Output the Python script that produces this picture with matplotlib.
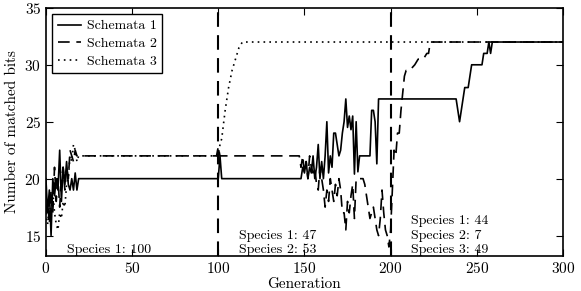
import matplotlib
matplotlib.use('Agg')
import matplotlib.pyplot as plt

plt.rcParams['font.family'] = ['cmr10', 'DejaVu Serif']
plt.rcParams['mathtext.fontset'] = 'cm'
plt.rcParams['axes.formatter.use_mathtext'] = True

####################
# Data

gen1 = [0, 1, 2, 3, 4, 5, 6, 7, 8, 9, 10, 11, 12, 13, 14, 15, 16, 17, 18, 19, 20,
        100, 101, 102,
        148, 149, 150, 151, 152, 153, 154, 155, 156, 157, 158, 159, 160, 161, 162,
        163, 164, 165, 166, 167, 168, 169, 170, 171, 172, 173, 174, 175, 176, 177,
        178, 179, 180, 181, 182, 188, 189, 190, 191, 192, 193,
        238, 240, 242, 243, 245, 247, 253, 254, 256, 257, 258, 259, 300]
sch1 = [20, 17, 19, 15, 20, 18.5, 20, 19, 22.5, 18, 21, 19.5, 21.5, 19.5, 19, 20, 19, 20.5, 19, 20, 20,
        20, 22, 20,
        20, 21, 20.5, 21.5, 20, 21, 20.5, 22, 20, 21, 23, 20, 21.5, 20, 22,
        25, 20.5, 22, 21, 24, 24, 23, 22, 22.5, 24, 25, 27, 24.5, 25.5, 24.3,
        25.5, 20.4, 25, 20.6, 22, 22, 26, 26, 25, 21.3, 27,
        27, 25, 27, 28, 28, 30, 30, 31, 31, 32, 31, 32, 32]

gen2 = [0, 1, 2, 3, 4, 5, 6, 7, 8, 9, 10, 11, 12, 13, 14, 15, 16, 17, 18, 20,
        99, 100, 101,
        147, 148, 149, 150, 151, 152, 153, 154, 155, 156, 157, 158, 159, 160, 161,
        162, 163, 164, 165, 166, 167, 168, 169, 170, 171, 172, 173, 174, 175, 176,
        177, 178, 179, 180, 184, 185, 186, 187, 188, 189, 190, 191, 192, 193, 194,
        195, 196, 197, 198, 199, 200, 201, 202, 203, 204, 205, 206, 207, 208, 209,
        211, 214, 216, 219, 221, 222, 223, 300]
sch2 = [17, 18, 16, 19, 17, 21, 18, 20, 17.5, 20, 21, 19, 21, 20, 22.5, 22, 21.5, 22.5, 22, 22,
        22, 22.8, 22,
        22, 21, 22, 20.5, 21.5, 20, 22, 21, 20.5, 21, 19.5, 19, 21, 20, 19,
        17.5, 19, 18, 20, 19, 18, 19.5, 18.5, 20, 19, 17, 17, 15.5, 18, 17,
        18.5, 19.5, 16.5, 20, 20, 19.5, 18.5, 17.5, 16.5, 17, 17.5, 16.5, 15.5, 15, 16.5,
        19, 17, 15.5, 15, 14, 15.5, 19, 22.5, 22, 24, 24, 26, 27.5, 29, 29.5,
        29.5, 30, 30.5, 30.5, 31, 31, 32, 32]

gen3 = [0, 1, 2, 3, 4, 5, 6, 7, 8, 9, 10, 11, 12, 13, 14, 15, 16, 17, 18, 19, 20,
        100, 101, 102, 104, 106, 108, 110, 112, 114, 300]
sch3 = [17, 16, 18, 16.5, 19, 17, 16, 15.5, 17, 16.5, 18, 17.5, 19.5, 20, 22, 21.5, 23, 22.5, 21.5, 22, 22,
        22, 23, 23.5, 26, 28, 29.5, 30.5, 31.5, 32, 32]

switch_gens = [100, 200]
species_x = [12, 112, 212]
species_text = [['Species 1: 100'],
                ['Species 1: 47', 'Species 2: 53'],
                ['Species 1: 44', 'Species 2: 7', 'Species 3: 49']]

####################
# Plotting

fig = plt.figure(figsize=(5.81, 2.91), dpi=100)
ax = fig.add_axes([0.079, 0.120, 0.890, 0.853])

ax.plot(gen1, sch1, 'k-', lw=1.2, label='Schemata 1')
ax.plot(gen2, sch2, 'k--', lw=1.2, dashes=(7, 4), label='Schemata 2')
ax.plot(gen3, sch3, 'k:', lw=1.2, dashes=(1, 2.5), label='Schemata 3')

for g in switch_gens:
    ax.axvline(g, color='k', ls='--', lw=1.5, dashes=(7, 4))

for x, lines in zip(species_x, species_text):
    for i, t in enumerate(reversed(lines)):
        ax.text(x, 13.5 + 1.24 * i, t, fontsize=10, va='baseline', ha='left')

ax.set_xlim(0, 300)
ax.set_ylim(13.2, 35)
ax.set_xticks([0, 50, 100, 150, 200, 250, 300])
ax.set_yticks([15, 20, 25, 30, 35])
ax.tick_params(direction='in', top=True, right=True, labelsize=11, length=5, width=0.8)
for s in ax.spines.values():
    s.set_linewidth(1.2)
ax.set_xlabel('Generation', fontsize=11, labelpad=1)
ax.set_ylabel('Number of matched bits', fontsize=11, labelpad=4)

leg = ax.legend(loc='upper left', fontsize=10, fancybox=False, framealpha=1,
                edgecolor='k', handlelength=1.7, handletextpad=0.4,
                labelspacing=0.35, borderaxespad=0.45)
leg.get_frame().set_linewidth(1.0)

fig.savefig('out.png', dpi=100)
